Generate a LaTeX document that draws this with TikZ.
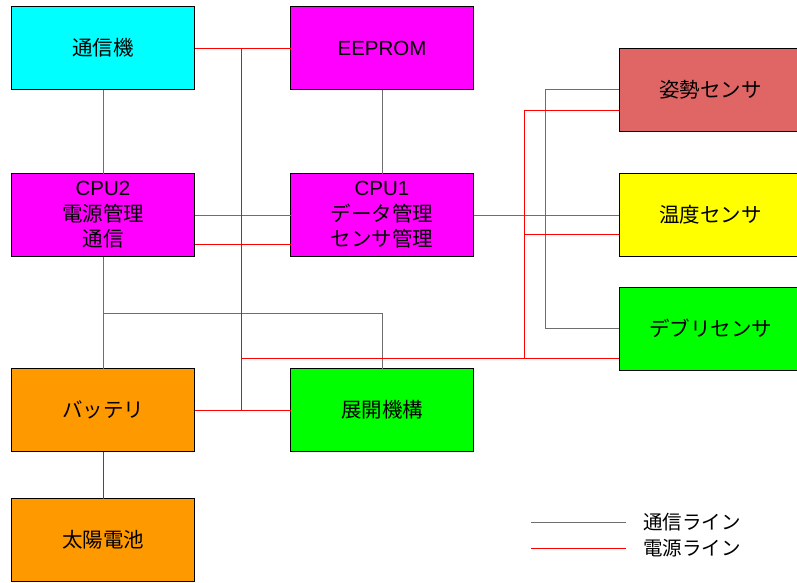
\documentclass[tikz,border=0pt]{standalone}
\usepackage{fontspec}
\setmainfont{Liberation Sans}
\newfontfamily\cjk{Noto Sans CJK JP}
\definecolor{ccyan}{RGB}{0,255,255}
\definecolor{cmag}{RGB}{255,0,255}
\definecolor{csal}{RGB}{224,102,102}
\definecolor{cyel}{RGB}{255,255,0}
\definecolor{cgrn}{RGB}{0,255,0}
\definecolor{corg}{RGB}{255,153,0}
\definecolor{cgray}{RGB}{110,110,110}
\definecolor{cred}{RGB}{255,0,0}
\begin{document}
\begin{tikzpicture}[x=1pt,y=-1pt,
  blk/.style={draw=black,line width=1pt,minimum width=183pt,minimum height=83pt,inner sep=0pt,outer sep=0pt,align=center,font=\fontsize{20.5}{25.5}\selectfont},
  comm/.style={draw=cgray,line width=0.9pt},
  pwr/.style={draw=cred,line width=0.9pt},
  lbl/.style={anchor=west,inner sep=0pt,font=\fontsize{19.5}{24}\selectfont\cjk}]
\useasboundingbox (0,0) rectangle (797,582);
\fill[white] (0,0) rectangle (797,582);
% boxes
\node[blk,fill=ccyan] (tsu) at (103,48) {\cjk 通信機};
\node[blk,fill=cmag] (eep) at (382,48) {EEPROM};
\node[blk,fill=csal] (shi) at (710.5,89.7) {\cjk 姿勢センサ};
\node[blk,fill=cmag] (cpu2) at (103,215) {CPU2\\{\cjk 電源管理}\\{\cjk 通信}};
\node[blk,fill=cmag] (cpu1) at (382,215) {CPU1\\{\cjk データ管理}\\{\cjk センサ管理}};
\node[blk,fill=cyel] (ond) at (710.5,215) {\cjk 温度センサ};
\node[blk,fill=cgrn] (deb) at (710.5,328.5) {\cjk デブリセンサ};
\node[blk,fill=corg] (bat) at (103,410) {\cjk バッテリ};
\node[blk,fill=cgrn] (ten) at (382,410) {\cjk 展開機構};
\node[blk,fill=corg] (tai) at (103,540) {\cjk 太陽電池};
% communication lines
\draw[comm] (tsu.south) -- (cpu2.north);
\draw[comm] (eep.south) -- (cpu1.north);
\draw[comm] (cpu2.east) -- (cpu1.west);
\draw[comm] (cpu1.east) -- (ond.west);
\coordinate (sv) at (545.5,89.7);
\draw[comm] (shi.west) -- (sv) |- (deb.west);
\draw[comm] (cpu2.south) -- (bat.north);
\coordinate (cj) at (103,313);
\draw[comm] (cj) -| (ten.north);
% power lines
\draw[pwr] (tsu.east) -- (eep.west);
\coordinate (rt) at (241.5,48);
\coordinate (rb) at (241.5,410);
\draw[pwr] (rt) -- (rb);
\draw[pwr] (bat.east) -- (ten.west);
\draw[pwr] ([yshift=-29pt]cpu2.east) -- ([yshift=-29pt]cpu1.west);
\coordinate (rd) at (241.5,358);
\draw[pwr] (rd) -- (rd -| deb.west);
\coordinate (rv1) at (524,110);
\coordinate (rv2) at (524,358);
\coordinate (rv3) at (524,234);
\draw[pwr] (rv2) -- (rv1) -- (rv1 -| shi.west);
\draw[pwr] (rv3) -- (rv3 -| ond.west);
\draw[pwr] (bat.south) -- (tai.north);
% legend
\coordinate (lg1) at (531,522.3);
\coordinate (lg2) at (626,522.3);
\coordinate (lr1) at (531,548.3);
\coordinate (lr2) at (626,548.3);
\draw[comm] (lg1) -- (lg2);
\draw[pwr] (lr1) -- (lr2);
\node[lbl] (lgt) at (643,522.3) {通信ライン};
\node[lbl] (lrt) at (643,548.3) {電源ライン};
\end{tikzpicture}
\end{document}
